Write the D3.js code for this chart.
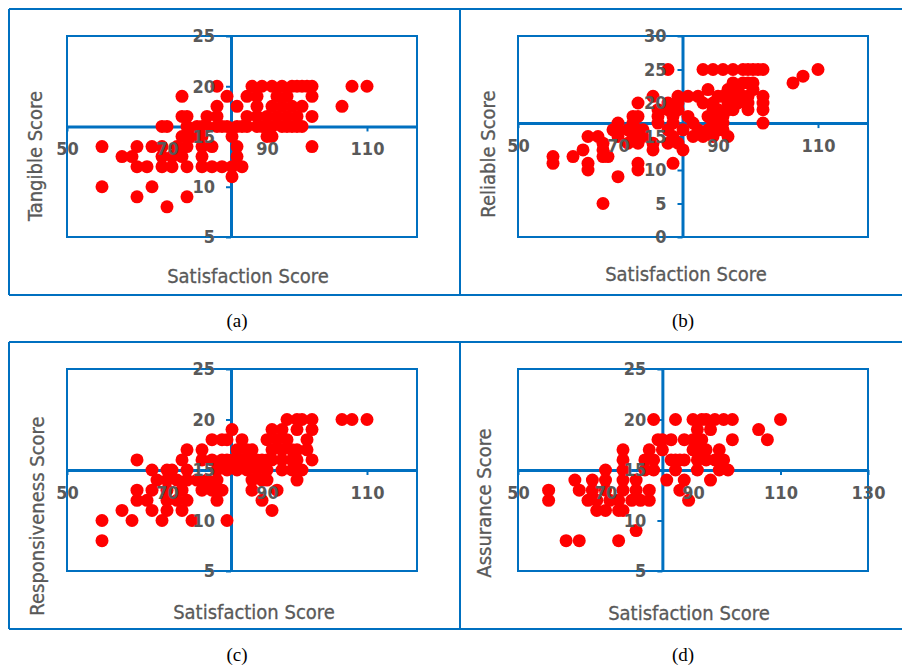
<!DOCTYPE html>
<html>
<head>
<meta charset="utf-8">
<script src="https://cdn.jsdelivr.net/npm/d3@7"></script>
<style>
  body { margin: 0; background: #fff; }
  svg { display: block; }
  .tick-label { font-family: "Liberation Sans Narrow", "DejaVu Sans Condensed", "Liberation Sans", sans-serif; font-size: 18px; font-weight: bold; fill: #595959; }
  .axis-title { font-family: "Liberation Sans Narrow", "DejaVu Sans Condensed", "Liberation Sans", sans-serif; font-size: 20px; fill: #595959; stroke: #595959; stroke-width: 0.3px; }
  .caption { font-family: "Liberation Serif", "DejaVu Serif", serif; font-size: 19px; fill: #000; }
</style>
</head>
<body>
<div id="chart"></div>
<script>
// satisfaction score vs dimension score, one [satisfaction, score] pair per respondent
const tangiblePts = [
  [80,20],[87,20],[89,20],[91,20],[93,20],[95,20],[96,20],[97,20],[98,20],[99,20],[107,20],[110,20],
  [73,19],[82,19],[86,19],[88,19],[92,19],[94,19],[99,19],
  [80,18],[84,18],[88,18],[91,18],[93,18],[95,18],[97,18],[105,18],
  [73,17],[74,17],[78,17],[80,17],[86,17],[88,17],[90,17],[92,17],[94,17],[96,17],[99,17],
  [69,16],[70,16],[74,16],[76,16],[77,16],[78,16],[80,16],[81,16],[82,16],[84,16],[85,16],[86,16],
  [88,16],[89,16],[90,16],[91,16],[93,16],[94,16],[95,16],[96,16],[97,16],
  [73,15],[74,15],[75,15],[77,15],[83,15],[90,15],[91,15],
  [57,14],[64,14],[67,14],[69,14],[72,14],[74,14],[77,14],[79,14],[84,14],[99,14],
  [61,13],[63,13],[69,13],[71,13],[73,13],[77,13],[84,13],
  [64,12],[66,12],[69,12],[71,12],[74,12],[77,12],[79,12],[81,12],[83,12],[85,12],
  [83,11],
  [57,10],[67,10],
  [64,9],[74,9],
  [70,8]
];

const reliablePts = [
  [80,25],[87,25],[89,25],[91,25],[93,25],[95,25],[96,25],[97,25],[98,25],[99,25],[110,25],
  [107,24],
  [93,23],[95,23],[96,23],[97,23],[105,23],
  [88,22],[92,22],[94,22],[97,22],
  [77,21],[82,21],[84,21],[86,21],[90,21],[91,21],[93,21],[95,21],[96,21],[99,21],
  [74,20],[80,20],[82,20],[87,20],[89,20],[92,20],[94,20],[96,20],[99,20],
  [78,19],[80,19],[82,19],[89,19],[90,19],[92,19],[93,19],[96,19],[99,19],
  [73,18],[74,18],[78,18],[81,18],[84,18],[88,18],[89,18],[91,18],
  [70,17],[73,17],[78,17],[81,17],[85,17],[89,17],[91,17],[99,17],
  [69,16],[70,16],[72,16],[74,16],[75,16],[80,16],[83,16],[86,16],[88,16],[90,16],[91,16],
  [64,15],[66,15],[70,15],[73,15],[75,15],[81,15],[85,15],[87,15],[89,15],[92,15],
  [67,14],[72,14],[74,14],[77,14],[80,14],[82,14],
  [63,13],[67,13],[77,13],[83,13],
  [57,12],[61,12],[67,12],[68,12],
  [57,11],[64,11],[74,11],[81,11],
  [64,10],[74,10],
  [70,9],
  [67,5]
];

const responsivePts = [
  [94,20],[96,20],[97,20],[99,20],[105,20],[107,20],[110,20],
  [83,19],[91,19],[93,19],[96,19],[99,19],
  [79,18],[81,18],[82,18],[85,18],[90,18],[92,18],[94,18],[98,18],
  [74,17],[77,17],[84,17],[86,17],[87,17],[91,17],[93,17],[95,17],[96,17],[98,17],
  [64,16],[73,16],[77,16],[79,16],[81,16],[82,16],[83,16],[84,16],[85,16],[86,16],[87,16],
  [88,16],[89,16],[90,16],[91,16],[93,16],[95,16],[96,16],[99,16],
  [67,15],[70,15],[71,15],[74,15],[80,15],[82,15],[84,15],[86,15],[88,15],[90,15],[93,15],[95,15],[97,15],
  [68,14],[70,14],[72,14],[74,14],[76,14],[78,14],[80,14],[87,14],[89,14],[90,14],[96,14],
  [64,13],[67,13],[70,13],[73,13],[77,13],[79,13],[81,13],[87,13],[92,13],
  [64,12],[66,12],[70,12],[72,12],[74,12],[80,12],[89,12],
  [61,11],[67,11],[70,11],[73,11],[91,11],
  [57,10],[63,10],[69,10],[75,10],[82,10],
  [57,8]
];

const assurancePts = [
  [81,20],[86,20],[90,20],[92,20],[93,20],[95,20],[97,20],[99,20],[110,20],
  [91,19],[94,19],[105,19],
  [82,18],[83,18],[85,18],[88,18],[90,18],[91,18],[92,18],[99,18],[107,18],
  [74,17],[80,17],[83,17],[90,17],[92,17],[93,17],[96,17],
  [74,16],[79,16],[81,16],[85,16],[86,16],[87,16],[88,16],[91,16],[93,16],[95,16],[97,16],
  [70,15],[74,15],[79,15],[81,15],[86,15],[91,15],[96,15],[98,15],
  [63,14],[67,14],[70,14],[74,14],[77,14],[84,14],[88,14],[94,14],
  [57,13],[64,13],[67,13],[70,13],[74,13],[77,13],[80,13],[87,13],
  [57,12],[66,12],[68,12],[71,12],[73,12],[76,12],[78,12],[80,12],[89,12],
  [68,11],[70,11],[73,11],[74,11],
  [77,9],
  [61,8],[64,8],[73,8]
];

const xTicksShort = [50, 70, 90, 110];
const xTicksLong = [50, 70, 90, 110, 130];
const yTicks5to25 = [5, 10, 15, 20, 25];
const yTicks0to30 = [0, 5, 10, 15, 20, 25, 30];

const xTitle = "Satisfaction Score";
const yTitles = ["Tangible Score", "Reliable Score", "Responsiveness Score", "Assurance Score"];
const captions = ["(a)", "(b)", "(c)", "(d)"];

const width = 902, height = 669;
const blue = "#0070C0";

const svg = d3.select("#chart").append("svg")
  .attr("width", width)
  .attr("height", height);

// table-like frame around the four panels
const frame = svg.append("g")
  .attr("fill", "none")
  .attr("stroke", blue)
  .attr("stroke-width", 2);
[[9, 295], [342, 629]].forEach(([top, bottom]) => {
  frame.append("line").attr("x1", 9).attr("x2", 903).attr("y1", top).attr("y2", top);
  frame.append("line").attr("x1", 9).attr("x2", 903).attr("y1", bottom).attr("y2", bottom);
  [9, 460].forEach(x => {
    frame.append("line").attr("x1", x).attr("x2", x).attr("y1", top).attr("y2", bottom);
  });
});

const panels = [
  { pts: tangiblePts, plot: [67, 417, 36, 237], xDom: [50, 120], yDom: [5, 25], xCross: 82.8, yCross: 16,
    xt: xTicksShort, yt: yTicks5to25, xTitlePos: [248, 276], yTitlePos: [35, 156], capPos: [237, 327] },
  { pts: reliablePts, plot: [518, 868, 36, 237], xDom: [50, 120], yDom: [0, 30], xCross: 82.9, yCross: 17,
    xt: xTicksShort, yt: yTicks0to30, xTitlePos: [686, 274], yTitlePos: [488, 154], capPos: [683, 327] },
  { pts: responsivePts, plot: [67, 417, 369, 571], xDom: [50, 120], yDom: [5, 25], xCross: 82.8, yCross: 15,
    xt: xTicksShort, yt: yTicks5to25, xTitlePos: [254, 612], yTitlePos: [37, 516], capPos: [237, 661] },
  { pts: assurancePts, plot: [518, 868, 369, 571], xDom: [50, 130], yDom: [5, 25], xCross: 83, yCross: 15,
    xt: xTicksLong, yt: yTicks5to25, xTitlePos: [689, 613], yTitlePos: [484, 503], capPos: [683, 661] }
];

function makeAxes(g, x, y, p) {
  const xAxis = d3.axisBottom(x).tickValues(p.xt).tickSize(5).tickSizeOuter(0).tickPadding(11);
  const yAxis = d3.axisLeft(y).tickValues(p.yt).tickSize(5).tickSizeOuter(0).tickPadding(11);
  const gx = g.append("g").attr("transform", "translate(0," + y(p.yCross) + ")").call(xAxis);
  const gy = g.append("g").attr("transform", "translate(" + x(p.xCross) + ",0)").call(yAxis);
  return [gx, gy];
}

panels.forEach((p, i) => {
  const [l, r, t, b] = p.plot;
  const x = d3.scaleLinear().domain(p.xDom).range([l, r]);
  const y = d3.scaleLinear().domain(p.yDom).range([b, t]);
  const g = svg.append("g");

  // plot area border
  g.append("rect")
    .attr("x", l).attr("y", t)
    .attr("width", r - l).attr("height", b - t)
    .attr("fill", "none")
    .attr("stroke", blue)
    .attr("stroke-width", 2);

  // axis lines go under the dots
  makeAxes(g.append("g"), x, y, p).forEach(a => {
    a.select(".domain").attr("stroke", blue).attr("stroke-width", 3);
    a.selectAll(".tick line").attr("stroke", blue).attr("stroke-width", 2);
    a.selectAll(".tick text").remove();
  });

  g.append("g").selectAll("circle")
    .data(p.pts)
    .enter()
    .append("circle")
    .attr("cx", d => x(d[0]))
    .attr("cy", d => y(d[1]))
    .attr("r", 6.5)
    .attr("fill", "#FF0000");

  // tick labels go over the dots
  makeAxes(g.append("g"), x, y, p).forEach(a => {
    a.attr("font-family", null).attr("font-size", null);
    a.select(".domain").remove();
    a.selectAll(".tick line").remove();
    a.selectAll(".tick text").attr("class", "tick-label").attr("fill", null);
  });

  g.append("text")
    .attr("class", "axis-title")
    .attr("x", p.xTitlePos[0]).attr("y", p.xTitlePos[1])
    .attr("dy", "0.35em")
    .attr("text-anchor", "middle")
    .text(xTitle);

  g.append("text")
    .attr("class", "axis-title")
    .attr("transform", "translate(" + p.yTitlePos[0] + "," + p.yTitlePos[1] + ") rotate(-90)")
    .attr("dy", "0.35em")
    .attr("text-anchor", "middle")
    .text(yTitles[i]);

  svg.append("text")
    .attr("class", "caption")
    .attr("x", p.capPos[0]).attr("y", p.capPos[1])
    .attr("text-anchor", "middle")
    .text(captions[i]);
});
</script>
</body>
</html>
